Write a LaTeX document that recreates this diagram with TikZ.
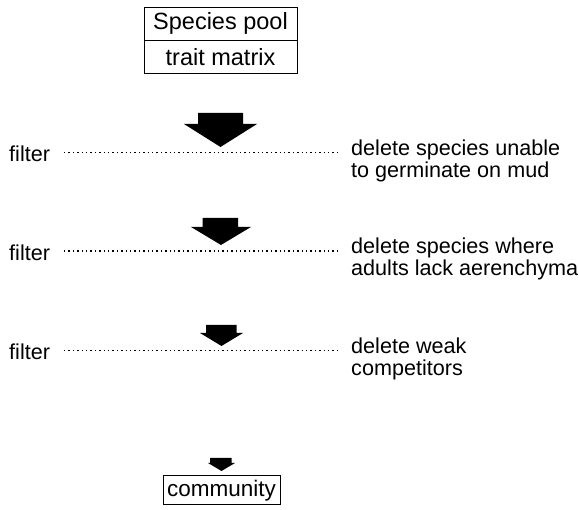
\documentclass[tikz,border=0pt]{standalone}
\usepackage{fontspec}
\setmainfont{Liberation Sans}
\usetikzlibrary{positioning}

\begin{document}
\begin{tikzpicture}[x=1pt,y=-1pt]
            \tikzset{cell/.style = {draw, line width=1pt, inner sep=0pt, outer sep=0pt, minimum width=153pt, minimum height=33.3pt, font=\fontsize{23.5}{24}\selectfont}}
            \tikzset{note/.style = {anchor=north west, align=left, inner sep=0pt, font=\fontsize{21.6}{22}\selectfont}}
            \tikzset{filtertxt/.style = {anchor=base west, inner sep=0pt, font=\fontsize{21.6}{22}\selectfont}}
            \tikzset{filterline/.style = {line width=1.3pt, dash pattern=on 1.4pt off 3pt}}
            \useasboundingbox (0,0) rectangle (579,510);
            % boxes
            \node[cell] (pool) at (220.5,23.7) {Species pool};
            \node[cell, below=0pt of pool] (matrix) {trait matrix};
            \node[cell, minimum width=117pt, minimum height=29pt, font=\fontsize{22.5}{23}\selectfont] (community) at (221.5,490.5) {community};
            % arrows
            \fill (198,113) -- (243,113) -- (243,124) -- (257,124) -- (220.5,147) -- (184,124) -- (198,124) -- cycle;
            \fill (202.7,218) -- (238,218) -- (238,227) -- (251,227) -- (221,245) -- (191,227) -- (202.7,227) -- cycle;
            \fill (206,325) -- (236.5,325) -- (236.5,333) -- (243,333) -- (221.5,346) -- (200,333) -- (206,333) -- cycle;
            \fill (210,458) -- (231.7,458) -- (231.7,463) -- (235,463) -- (221.5,471) -- (208,463) -- (210,463) -- cycle;
            % filters
            \node[filtertxt] (f1) at (9,162) {filter};
            \node[filtertxt] (f2) at (9,260.5) {filter};
            \node[filtertxt] (f3) at (9,360) {filter};
            \node[note] (d1) at (351,139.5) {delete species unable\\to germinate on mud};
            \node[note] (d2) at (351,238) {delete species where\\adults lack aerenchyma};
            \node[note] (d3) at (351,337.5) {delete weak\\competitors};
            \coordinate (l1) at (64,152.5);
            \coordinate (r1) at (340,152.5);
            \coordinate (l2) at (64,251);
            \coordinate (r2) at (340,251);
            \coordinate (l3) at (64,350.5);
            \coordinate (r3) at (340,350.5);
            \draw[filterline] (l1) -- (r1);
            \draw[filterline] (l2) -- (r2);
            \draw[filterline] (l3) -- (r3);
\end{tikzpicture}
\end{document}
